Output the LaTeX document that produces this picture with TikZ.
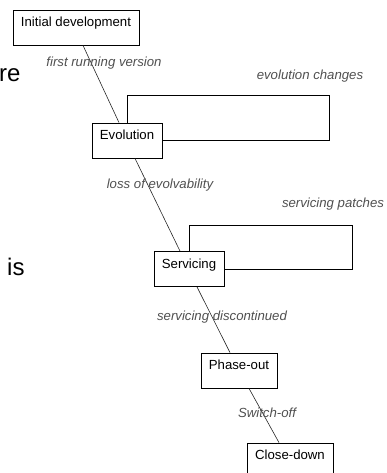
\documentclass[tikz,border=0pt]{standalone}
\usepackage{fontspec}
\setmainfont{Liberation Sans}
\definecolor{labelgray}{RGB}{80,80,80}
\begin{document}
\begin{tikzpicture}[x=1pt,y=-1pt,
  stage/.style={draw,line width=0.8pt,inner xsep=0pt,inner ysep=0pt,
    text height=16.5pt,text depth=18.5pt,font=\fontsize{13.2}{15}\selectfont},
  trans/.style={font=\fontsize{13.2}{15}\selectfont\itshape,text=labelgray,inner sep=0pt},
  conn/.style={line width=0.6pt,black!85},
  loopline/.style={line width=0.8pt},
  slide/.style={font=\fontsize{24}{28}\selectfont,anchor=base west,inner sep=0pt}]
\useasboundingbox (0,0) rectangle (386,473);
\clip (0,0) rectangle (386,473);

% bits of slide text
\node[slide] (frag1) at (-1,82) {re};
\node[slide] (frag2) at (7,275) {is};

% stages
\node[stage,minimum width=126pt] (init) at (76,27.5) {Initial development};
\node[stage,minimum width=70pt] (evo) at (127,140.5) {Evolution};
\node[stage,minimum width=70pt] (serv) at (189,269) {Servicing};
\node[stage,minimum width=76pt] (phase) at (239,370.5) {Phase-out};
\node[stage,minimum width=86pt] (close) at (290,460.5) {Close-down};

% transitions
\draw[conn] ([xshift=7pt]init.south) -- ([xshift=-8pt]evo.north);
\draw[conn] ([xshift=8pt]evo.south) -- ([xshift=-9pt]serv.north);
\draw[conn] ([xshift=8pt]serv.south) -- ([xshift=-9pt]phase.north);
\draw[conn] ([xshift=10pt]phase.south) -- ([xshift=-11pt]close.north);

% loops
\coordinate (evoloop) at (329,95);
\coordinate (servloop) at (352,225);
\draw[loopline] (evo.north) |- (evoloop) |- (evo.east);
\draw[loopline] (serv.north) |- (servloop) |- (serv.east);

% labels
\node[trans] (lfirst) at (104,63) {first running version};
\node[trans] (lchanges) at (310,76) {evolution changes};
\node[trans] (lloss) at (160,185) {loss of evolvability};
\node[trans] (lpatches) at (333,204) {servicing patches};
\node[trans] (ldisc) at (222,317) {servicing discontinued};
\node[trans] (lswitch) at (267,413) {Switch-off};
\end{tikzpicture}
\end{document}
